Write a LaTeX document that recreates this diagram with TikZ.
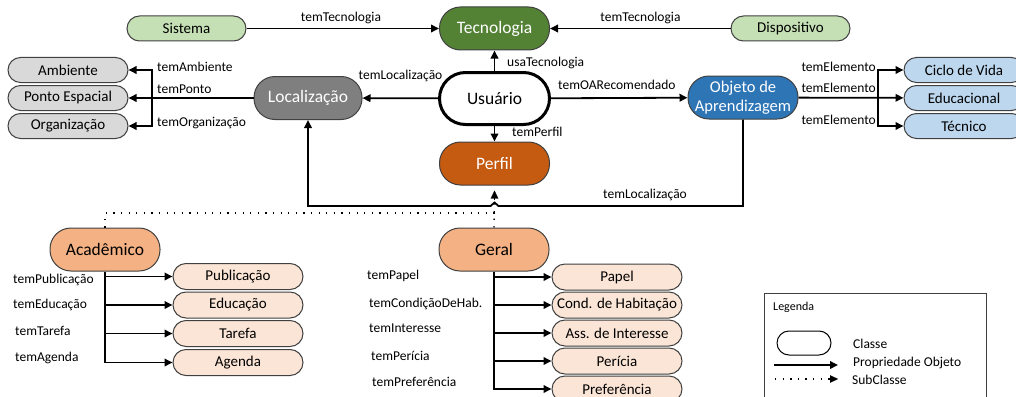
\documentclass[tikz,border=0pt]{standalone}
\usepackage{fontspec}
\setmainfont{Carlito}
\usetikzlibrary{arrows.meta}
\definecolor{tecG}{HTML}{548235}
\definecolor{lgG}{HTML}{C5E0B4}
\definecolor{locG}{HTML}{7F7F7F}
\definecolor{lgGr}{HTML}{D9D9D9}
\definecolor{objB}{HTML}{2E75B6}
\definecolor{lgB}{HTML}{BDD7EE}
\definecolor{perO}{HTML}{C55A11}
\definecolor{midO}{HTML}{F4B183}
\definecolor{lgO}{HTML}{FBE5D6}
\definecolor{bord}{HTML}{404040}
\tikzset{
  pillS/.style={draw=bord, line width=1pt, rectangle, rounded corners=12.5pt, minimum height=25pt, inner sep=0pt, font=\fontsize{15}{17}\selectfont},
  pillL/.style={draw=bord, line width=1pt, rectangle, rounded corners=21pt, minimum width=110pt, minimum height=43pt, inner sep=0pt, font=\fontsize{17.5}{19}\selectfont},
  lbl/.style={inner sep=0pt, font=\fontsize{13.5}{15}\selectfont},
  arr/.style={line width=1.8pt, -{Triangle[length=8pt,width=7.5pt]}},
  ln/.style={line width=1.8pt},
  sub/.style={line width=1.3pt, dash pattern=on 1.3pt off 6.3pt},
}
\begin{document}
\begin{tikzpicture}[x=1pt,y=-1pt]
\useasboundingbox (0,0) rectangle (1016,396);
% top row
\node[pillS, fill=lgG, minimum width=119pt] (sis) at (186.5,28.5) {Sistema};
\node[pillL, fill=tecG, text=white] (tec) at (494.5,28.5) {Tecnologia};
\node[pillS, fill=lgG, minimum width=119pt] (dis) at (790.5,28.5) {Dispositivo};
% left
\node[pillS, fill=lgGr, minimum width=120pt] (amb) at (68,70) {Ambiente};
\node[pillS, fill=lgGr, minimum width=120pt] (pon) at (68,98) {Ponto Espacial};
\node[pillS, fill=lgGr, minimum width=120pt] (org) at (68,126) {Organização};
\node[pillL, fill=locG, text=white, minimum width=108pt] (loc) at (308,98) {Localização};
% centre
\node[pillL, fill=white, line width=3pt, draw=black, minimum height=52pt, rounded corners=26pt] (usu) at (494.5,98.5) {Usuário};
\node[pillL, fill=objB, text=white, align=center, font=\fontsize{16.5}{19}\selectfont] (obj) at (743,97.5) {Objeto de\\Aprendizagem};
\node[pillL, fill=perO, text=white] (per) at (494.5,163.5) {Perfil};
% right
\node[pillS, fill=lgB, minimum width=120pt] (cic) at (964,70) {Ciclo de Vida};
\node[pillS, fill=lgB, minimum width=120pt] (edu) at (964,98) {Educacional};
\node[pillS, fill=lgB, minimum width=120pt] (tcn) at (964,126) {Técnico};
% bottom
\node[pillL, fill=midO] (aca) at (105,249.5) {Acadêmico};
\node[pillL, fill=midO] (ger) at (494,249.5) {Geral};
\node[pillS, fill=lgO, minimum width=130pt, minimum height=26pt, rounded corners=13pt] (pub) at (238,276.5) {Publicação};
\node[pillS, fill=lgO, minimum width=130pt, minimum height=26pt, rounded corners=13pt] (edc) at (238,305) {Educação};
\node[pillS, fill=lgO, minimum width=130pt, minimum height=26pt, rounded corners=13pt] (tar) at (238,333.5) {Tarefa};
\node[pillS, fill=lgO, minimum width=130pt, minimum height=26pt, rounded corners=13pt] (age) at (238,362.5) {Agenda};
\node[pillS, fill=lgO, minimum width=130pt, minimum height=26pt, rounded corners=13pt] (pap) at (617,277) {Papel};
\node[pillS, fill=lgO, minimum width=130pt, minimum height=26pt, rounded corners=13pt] (cond) at (617,305) {Cond. de Habitação};
\node[pillS, fill=lgO, minimum width=130pt, minimum height=26pt, rounded corners=13pt] (ass) at (617,333) {Ass. de Interesse};
\node[pillS, fill=lgO, minimum width=130pt, minimum height=26pt, rounded corners=13pt] (peri) at (617,361) {Perícia};
\node[pillS, fill=lgO, minimum width=130pt, minimum height=26pt, rounded corners=13pt] (pref) at (617,389) {Preferência};
% coordinates
\coordinate (locb) at (152,98);
\coordinate (objb) at (878,98);
\coordinate (hop) at (494.5,206);
\coordinate (subj) at (494.5,213);
% connectors
\draw[arr] (sis) -- (tec);
\draw[arr] (dis) -- (tec);
\draw[arr] (usu) -- (tec);
\draw[arr] (usu) -- (loc);
\draw[arr] (usu) -- (obj);
\draw[arr] (usu) -- (per);
\draw[arr] (loc) -- (pon);
\draw[arr] (locb) |- (amb.east);
\draw[arr] (locb) |- (org.east);
\draw[arr] (obj) -- (edu);
\draw[arr] (objb) |- (cic.west);
\draw[arr] (objb) |- (tcn.west);
\draw[arr, line join=miter] (obj.south) |- ([xshift=4pt]hop) -- ([yshift=3.5pt]hop) -- ([xshift=-4pt]hop) -| (loc.south);
\foreach \t in {pub,edc,tar,age} \draw[arr] (aca.south) |- (\t.west);
\foreach \t in {pap,cond,ass,peri,pref} \draw[arr] (ger.south) |- (\t.west);
% subclass
\draw[sub] (aca.north) |- (subj);
\draw[sub] (ger.north) -- ([yshift=-6pt]per.south);
\draw[-{Triangle[length=8pt,width=7.5pt]}, line width=0.1pt] ([yshift=-14pt]per.south) -- ([yshift=-5pt]per.south);
% labels
\node[lbl] (l1) at (341,18) {temTecnologia};
\node[lbl] (l2) at (640.5,18) {temTecnologia};
\node[lbl, anchor=west] (l3) at (507,63) {usaTecnologia};
\node[lbl] (l4) at (400.5,76) {temLocalização};
\node[lbl, anchor=west] (l5) at (558,85) {temOARecomendado};
\node[lbl, anchor=west] (l6) at (512,132) {temPerfil};
\node[lbl, anchor=west] (l7) at (157,67) {temAmbiente};
\node[lbl, anchor=west] (l8) at (157,89) {temPonto};
\node[lbl, anchor=west] (l9) at (157,123) {temOrganização};
\node[lbl, anchor=east] (l10) at (876,67) {temElemento};
\node[lbl, anchor=east] (l11) at (876,88) {temElemento};
\node[lbl, anchor=east] (l12) at (876,120) {temElemento};
\node[lbl] (l13) at (645,195) {temLocalização};
\node[lbl, anchor=west] (a1) at (13,280) {temPublicação};
\node[lbl, anchor=west] (a2) at (13,305) {temEducação};
\node[lbl, anchor=west] (a3) at (15,331) {temTarefa};
\node[lbl, anchor=west] (a4) at (15,358) {temAgenda};
\node[lbl, anchor=west] (g1) at (367,276) {temPapel};
\node[lbl, anchor=west] (g2) at (369,304) {temCondiçãoDeHab.};
\node[lbl, anchor=west] (g3) at (369,328) {temInteresse};
\node[lbl, anchor=west] (g4) at (371,356) {temPerícia};
\node[lbl, anchor=west] (g5) at (372,382) {temPreferência};
% legend
\draw[draw=bord, line width=0.9pt] (764,293) rectangle (986,402);
\node[inner sep=0pt, anchor=west, font=\fontsize{12}{14}\selectfont] (leg) at (773,307) {Legenda};
\node[draw=black, line width=1pt, fill=white, rectangle, rounded corners=12pt, minimum width=54pt, minimum height=24pt, inner sep=0pt] (lcl) at (804,343) {};
\node[lbl, anchor=west] (lt1) at (853,344) {Classe};
\coordinate (lp1) at (774,365);
\coordinate (lp2) at (838,365);
\coordinate (ls1) at (775,379);
\coordinate (ls2) at (838,379);
\draw[arr] (lp1) -- (lp2);
\node[lbl, anchor=west] (lt2) at (853,363) {Propriedade Objeto};
\draw[sub] (ls1) -- ([xshift=-7pt]ls2);
\draw[-{Triangle[length=8pt,width=7.5pt]}, line width=0.1pt] ([xshift=-8pt]ls2) -- (ls2);
\node[lbl, anchor=west] (lt3) at (852,380) {SubClasse};
\end{tikzpicture}
\end{document}
